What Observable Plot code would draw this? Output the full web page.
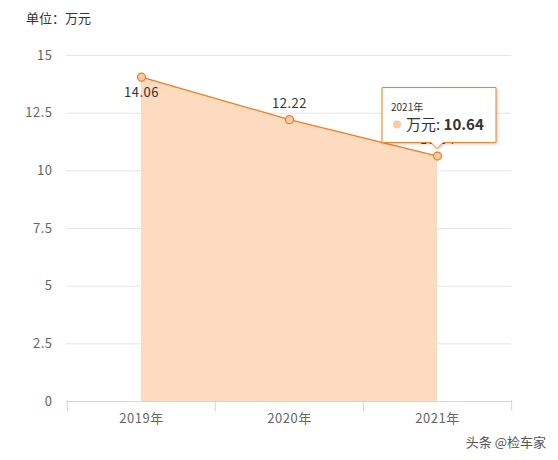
<!DOCTYPE html>
<html>
<head>
<meta charset="utf-8">
<script src="https://cdn.jsdelivr.net/npm/d3@7"></script>
<script src="https://cdn.jsdelivr.net/npm/@observablehq/plot@0.6"></script>
<style>
  body { margin: 0; background: #fff; font-family: "Noto Sans CJK SC", "Noto Sans", sans-serif; }
  #wrap { position: relative; width: 558px; height: 460px; }
  #title { position: absolute; left: 26px; top: 8px; font-size: 13px; color: #333; }
  #mark { position: absolute; right: 12px; top: 432px; font-size: 13px; color: #555; }
</style>
</head>
<body>
<div id="wrap">
  <div id="title">单位：万元</div>
  <div id="mark">头条 @检车家</div>
</div>
<script>
const years = ["2019年", "2020年", "2021年"];
const values = [14.06, 12.22, 10.64];
const yTicks = [0, 2.5, 5, 7.5, 10, 12.5, 15];
const seriesName = "万元";
const tipIndex = 2;

const data = years.map((y, i) => ({year: y, value: values[i]}));

const W = 558, H = 460, ML = 66, MR = 47, MT = 55, MB = 59;
const step = (W - ML - MR) / years.length;
const orange = "#f47b20";
const font = '"Noto Sans CJK SC", "Noto Sans", sans-serif';

const plot = Plot.plot({
  width: W, height: H,
  marginLeft: ML, marginRight: MR, marginTop: MT, marginBottom: MB,
  style: {fontFamily: font, fontSize: "13px", color: "#666", background: "transparent", letterSpacing: "0.5px"},
  x: {type: "point", domain: years, padding: 0.5, label: null},
  y: {domain: [0, 15], label: null},
  marks: [
    Plot.gridY(yTicks.filter(d => d > 0), {stroke: "#e6e6e6", strokeOpacity: 1}),
    Plot.axisY({ticks: yTicks, tickSize: 0, tickPadding: 14, tickFormat: d => String(d), fill: "#666", fontSize: 13}),
    Plot.areaY(data, {x: "year", y: "value", fill: "#fddbbf", fillOpacity: 1}),
    Plot.lineY(data, {x: "year", y: "value", stroke: orange, strokeWidth: 1.2}),
    Plot.ruleY([0], {stroke: "#ccd6eb"}),
    Plot.ruleX(years, {x: d => d, y1: 0, dx: -step / 2, stroke: "#ccd6eb", insetTop: -1, insetBottom: -10}),
    Plot.ruleX([years[years.length - 1]], {x: d => d, y1: 0, dx: step / 2, stroke: "#ccd6eb", insetTop: -1, insetBottom: -10}),
    Plot.axisX({tickSize: 0, tickPadding: 12, fill: "#666", fontSize: 13}),
    Plot.dot(data, {x: "year", y: "value", r: 4, fill: "#fcc9a6", stroke: orange, strokeWidth: 1.2}),
    Plot.text(data, {x: "year", y: "value", text: d => d.value.toFixed(2),
      fill: "#333", fontSize: 13, filter: (d, i) => i === 0, dy: 16}),
    Plot.text(data, {x: "year", y: "value", text: d => d.value.toFixed(2),
      fill: "#333", fontSize: 13, filter: (d, i) => i > 0, dy: -16})
  ]
});
document.getElementById("wrap").prepend(plot);
plot.style.position = "absolute";
plot.style.left = "0";
plot.style.top = "0";

// tooltip anchored to the last point via the scales
const xs = plot.scale("x"), ys = plot.scale("y");
const d = data[tipIndex];
const px = xs.apply(d.year), py = ys.apply(d.value);
const svg = d3.select(plot);
const defs = svg.append("defs");
const f = defs.append("filter").attr("id", "shadow").attr("x", "-20%").attr("y", "-20%").attr("width", "150%").attr("height", "150%");
f.append("feDropShadow").attr("dx", 1).attr("dy", 1).attr("stdDeviation", 1.5).attr("flood-color", "#000").attr("flood-opacity", 0.2);
const bx0 = px - 55, bx1 = px + 59, by0 = py - 68, by1 = py - 13, tipY = py - 7;
const g = svg.append("g").attr("text-anchor", "start").style("letter-spacing", "0px");
g.append("path")
  .attr("d", `M${bx0},${by0} H${bx1} V${by1} H${px + 6} L${px},${tipY} L${px - 6},${by1} H${bx0} Z`)
  .attr("fill", "#fff")
  .attr("stroke", orange).attr("stroke-width", 1)
  .attr("filter", "url(#shadow)");
g.append("text").attr("x", bx0 + 9).attr("y", by0 + 23).attr("text-anchor", "start")
  .attr("font-size", 10).attr("fill", "#333").attr("font-family", font).text(d.year);
g.append("circle").attr("cx", bx0 + 15).attr("cy", by0 + 37).attr("r", 4).attr("fill", "#fcc9a6");
const t = g.append("text").attr("x", bx0 + 24).attr("y", by0 + 42).attr("text-anchor", "start")
  .attr("font-size", 15).attr("fill", "#333").attr("font-family", font);
t.append("tspan").text(seriesName + ": ");
t.append("tspan").attr("font-weight", "bold").text(d.value.toFixed(2));
</script>
</body>
</html>
